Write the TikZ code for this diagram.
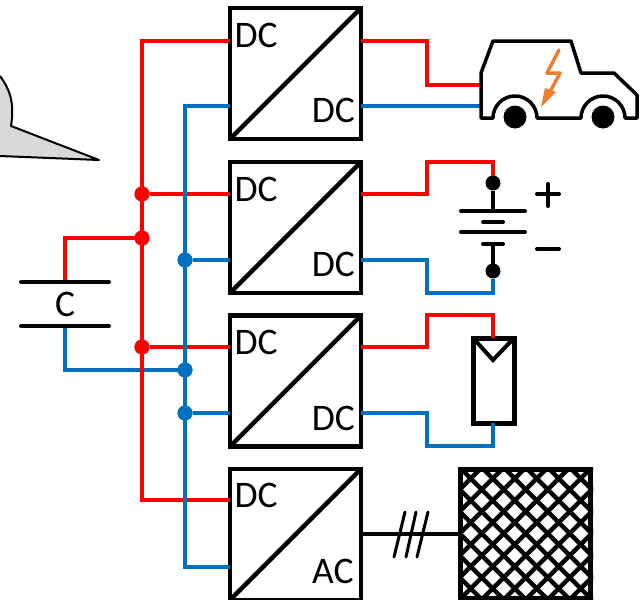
\documentclass[tikz,border=0pt]{standalone}
\usepackage{fontspec}
\setmainfont{Carlito}
\definecolor{wred}{RGB}{255,0,0}
\definecolor{wblue}{RGB}{0,112,192}
\definecolor{bolt}{RGB}{237,125,49}
\definecolor{bubble}{RGB}{217,217,217}
\tikzset{
  conv/.style={draw=black,line width=4.5pt,minimum size=131pt,inner sep=0pt,outer sep=0pt},
  lbl/.style={font=\fontsize{37.5}{37.5}\selectfont,inner sep=0pt,outer sep=0pt},
  redw/.style={draw=wred,line width=4pt,line join=miter},
  bluew/.style={draw=wblue,line width=4pt,line join=miter},
  blk/.style={draw=black,line width=4pt,line cap=round},
  rdot/.style={circle,fill=wred,minimum size=15pt,inner sep=0pt,outer sep=0pt},
  bdot/.style={circle,fill=wblue,minimum size=15pt,inner sep=0pt,outer sep=0pt},
  kdot/.style={circle,fill=black,minimum size=15pt,inner sep=0pt,outer sep=0pt},
}
\begin{document}
\begin{tikzpicture}[x=1pt,y=-1pt]
\useasboundingbox (0,0) rectangle (641,600);
% speech bubble
\fill[bubble] (0,76) .. controls (9,88) and (15,102) .. (11,126) -- (99,160) -- (0,156) -- cycle;
\draw[black,line width=2pt,line join=round] (0,76) .. controls (9,88) and (15,102) .. (11,126) -- (99,160) -- (0,156);
% converters
\node[conv] (b1) at (295.5,73.5) {};
\node[conv] (b2) at (295.5,227.5) {};
\node[conv] (b3) at (295.5,381) {};
\node[conv] (b4) at (295.5,534.5) {};
% junctions and routing points
\coordinate (rtop) at (142,41);
\coordinate (rbot) at (142,500);
\coordinate (btop) at (185,106);
\coordinate (bbot) at (185,567);
\node[rdot] (r1) at (142,194) {};
\node[rdot] (r2) at (142,238) {};
\node[rdot] (r3) at (142,347) {};
\node[bdot] (k1) at (185,260) {};
\node[bdot] (k2) at (185,370) {};
\node[bdot] (k3) at (185,413) {};
% capacitor
\coordinate (capT) at (65,282);
\coordinate (capB) at (65,326);
\draw[redw] (capT) |- (r2);
\draw[bluew] (capB) |- (k2);
\draw[blk] (21,282) -- (109,282);
\draw[blk] (21,326) -- (109,326);
\node[lbl] (clab) at (65,304) {C};
% buses
\draw[redw] (b1.west |- rtop) -- (rtop) -- (rbot) -- (b4.west |- rbot);
\draw[redw] (r1) -- (b2.west |- r1);
\draw[redw] (r3) -- (b3.west |- r3);
\draw[bluew] (b1.west |- btop) -- (btop) -- (bbot) -- (b4.west |- bbot);
\draw[bluew] (k1) -- (b2.west |- k1);
\draw[bluew] (k3) -- (b3.west |- k3);
\node[rdot] at (r1) {};
\node[rdot] at (r2) {};
\node[rdot] at (r3) {};
\node[bdot] at (k1) {};
\node[bdot] at (k2) {};
\node[bdot] at (k3) {};
% outputs 1: car
\coordinate (c1) at (483,85);
\coordinate (c2) at (483,106);
\draw[redw] (b1.east |- rtop) -- (427,41) -- (427,85) -- (c1);
\draw[bluew] (b1.east |- btop) -- (c2);
% car body
\draw[black,line width=3.5pt,line join=round] (481,118) -- (481,73) -- (493,41) -- (571,41) -- (581,73) -- (614,73) -- (637,95) -- (637,118) -- (625,118)
  arc[start angle=0,end angle=-180,radius=22] -- (537,118)
  arc[start angle=0,end angle=-180,radius=22] -- cycle;
\node[kdot,minimum size=23pt] (w1) at (515,117) {};
\node[kdot,minimum size=23pt] (w2) at (603,117) {};
% lightning
\draw[bolt,line width=3.5pt,line join=round,line cap=round] (559,50) -- (547,73) -- (560,73) -- (550,92);
\fill[bolt] (545,88) -- (556,92) -- (541,107) -- cycle;
% outputs 2: battery
\node[kdot] (bp) at (493,183) {};
\node[kdot] (bn) at (493,271) {};
\draw[redw] (b2.east |- r1) -- (427,194) -- (427,162) -- (493,162) -- (bp);
\draw[bluew] (b2.east |- k1) -- (427,260) -- (427,293) -- (493,293) -- (bn);
\coordinate (p1) at (493,211);
\coordinate (p2) at (493,244);
\draw[black,line width=4pt] (bp) -- (p1);
\draw[black,line width=4pt] (bn) -- (p2);
\draw[blk] (461,211) -- (525,211);
\draw[blk] (483,222) -- (503,222);
\draw[blk] (461,232) -- (525,232);
\draw[blk] (483,244) -- (503,244);
\draw[blk] (537,194) -- (559,194);
\draw[blk] (548,184) -- (548,206);
\draw[blk] (537,249) -- (559,249);
% outputs 3: solar panel
\node[draw=black,line width=5pt,minimum width=41pt,minimum height=85pt,inner sep=0pt,outer sep=0pt] (pv) at (493.5,380.5) {};
\draw[redw] (b3.east |- r3) -- (427,347) -- (427,315) -- (493,315) -- (493,338);
\draw[bluew] (b3.east |- k3) -- (427,413) -- (427,446) -- (493,446) -- (493,423);
\draw[black,line width=4pt] (pv.north west) -- (493,360) -- (pv.north east);
% grid
\coordinate (gl) at (461,534);
\draw[black,line width=4pt] (b4.east |- gl) -- (gl);
\draw[black,line width=3pt,line cap=round] (394,557) -- (405,512);
\draw[black,line width=3pt,line cap=round] (406,557) -- (416,512);
\draw[black,line width=3pt,line cap=round] (417,557) -- (428,512);
\begin{scope}
\clip (459,467) rectangle (593,600);
\foreach \k in {-12,...,12} {
  \draw[black,line width=4.5pt] ({492.7+\k*22-100},{478.5-100}) -- ({492.7+\k*22+200},{478.5+200});
  \draw[black,line width=4.5pt] ({492.7+\k*22+100},{478.5-100}) -- ({492.7+\k*22-200},{478.5+200});
}
\end{scope}
\node[draw=black,line width=4.5pt,minimum width=130pt,minimum height=129pt,inner sep=0pt,outer sep=0pt] (grid) at (525.7,534) {};
% diagonals
\foreach \b in {b1,b2,b3,b4} {
  \draw[black,line width=4.5pt] (\b.south west) -- (\b.north east);
}
\node[lbl,anchor=base west] (t1) at (234.5,47) {DC};
\node[lbl,anchor=base east] (t2) at (355,122.5) {DC};
\node[lbl,anchor=base west] (t3) at (234.5,201) {DC};
\node[lbl,anchor=base east] (t4) at (355,276.5) {DC};
\node[lbl,anchor=base west] (t5) at (234.5,354) {DC};
\node[lbl,anchor=base east] (t6) at (355,430) {DC};
\node[lbl,anchor=base west] (t7) at (234.5,507) {DC};
\node[lbl,anchor=base east] (t8) at (353.5,583.5) {AC};
\end{tikzpicture}
\end{document}
